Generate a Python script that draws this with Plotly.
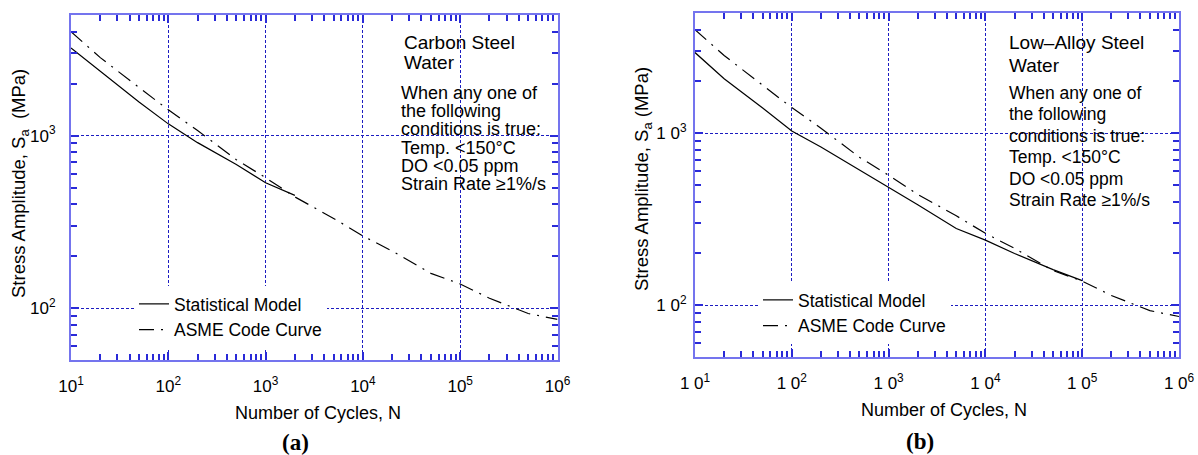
import plotly.graph_objects as go

# ---------------- data ----------------
# (a) Carbon steel
cs_model_N = [10, 20, 50, 100, 200, 500, 1000, 2000]
cs_model_S = [3215, 2345, 1565, 1169, 910, 680, 533, 450]
asme_N = [10, 20, 50, 100, 200, 500, 1000, 2000, 5000, 1e4, 2e4, 5e4, 1e5, 2e5, 5e5, 1e6]
asme_S = [4000, 2830, 1900, 1410, 1070, 725, 570, 441, 331, 262, 214, 159, 138, 114, 93, 86]
# (b) Low-alloy steel
las_model_N = [10, 20, 50, 100, 200, 500, 1000, 2000, 5000, 1e4, 2e4, 5e4, 1e5]
las_model_S = [2944, 2074, 1403, 1030, 832, 613, 489, 384, 279, 239, 200, 161, 139]

x_major = [10, 100, 1000, 1e4, 1e5, 1e6]
x_labels_a = ["10<sup>1</sup>", "10<sup>2</sup>", "10<sup>3</sup>", "10<sup>4</sup>", "10<sup>5</sup>", "10<sup>6</sup>"]
x_labels_b = ["1 0<sup>1</sup>", "1 0<sup>2</sup>", "1 0<sup>3</sup>", "1 0<sup>4</sup>", "1 0<sup>5</sup>", "1 0<sup>6</sup>"]
y_major = [100, 1000]
y_labels_a = ["10<sup>2</sup>", "10<sup>3</sup>"]
y_labels_b = ["1 0<sup>2</sup>", "1 0<sup>3</sup>"]
x_minor = [m * 10 ** e for e in range(1, 6) for m in range(2, 10)]
y_minor = [m * 10 ** e for e in range(1, 4) for m in range(2, 10)]

text_a_title = ["Carbon Steel", "Water"]
text_b_title = ["Low\u2013Alloy Steel", "Water"]
text_body = ["When any one of", "the following", "conditions is true:",
             "Temp. <150\u00b0C", "DO <0.05 ppm", "Strain Rate \u22651%/s"]

W, H = 1198, 455
FONT = "Liberation Sans"
AXIS_LINE = "#7474ee"
TICK_C = "#2a2ad8"
GRID_C = "#1c1cc0"

fig = go.Figure()
fig.add_trace(go.Scatter(x=cs_model_N, y=cs_model_S, mode="lines", name="Statistical Model",
                         line=dict(color="black", width=1.2), xaxis="x", yaxis="y", legend="legend"))
fig.add_trace(go.Scatter(x=asme_N, y=asme_S, mode="lines", name="ASME Code Curve",
                         line=dict(color="black", width=1.2, dash="15px,7px,2px,7px"),
                         xaxis="x", yaxis="y", legend="legend"))
fig.add_trace(go.Scatter(x=las_model_N, y=las_model_S, mode="lines", name="Statistical Model",
                         line=dict(color="black", width=1.2), xaxis="x2", yaxis="y2", legend="legend2"))
fig.add_trace(go.Scatter(x=asme_N, y=asme_S, mode="lines", name="ASME Code Curve",
                         line=dict(color="black", width=1.2, dash="15px,7px,2px,7px"),
                         xaxis="x2", yaxis="y2", legend="legend2"))


def axis(common_range, tickvals, ticktext, minor_vals, domain, anchor, standoff):
    return dict(type="log", range=common_range, domain=domain, anchor=anchor, automargin=False,
                tickmode="array", tickvals=tickvals, ticktext=ticktext,
                showline=True, linecolor=AXIS_LINE, linewidth=2, mirror="ticks",
                ticks="inside", ticklen=8, tickwidth=1.5, tickcolor=TICK_C,
                showgrid=True, gridcolor=GRID_C, gridwidth=1, griddash="3px,2px",
                zeroline=False, ticklabelstandoff=standoff,
                tickfont=dict(family=FONT, size=17, color="black"),
                minor=dict(tickmode="array", tickvals=minor_vals, ticks="inside", ticklen=6,
                           tickwidth=1.5, tickcolor=TICK_C, showgrid=False))


px = lambda v: v / W
py = lambda v: 1 - v / H

fig.update_layout(
    width=W, height=H, margin=dict(l=0, r=0, t=0, b=0, autoexpand=False),
    paper_bgcolor="white", plot_bgcolor="white",
    font=dict(family=FONT, size=17, color="black"),
    xaxis=axis([1, 6], x_major, x_labels_a, x_minor, [px(71), px(557.5)], "y", 10),
    yaxis=axis([1.699, 3.699], y_major, y_labels_a, y_minor, [py(360), py(15)], "x", 10),
    xaxis2=axis([1, 6], x_major, x_labels_b, x_minor, [px(695), px(1179)], "y2", 10),
    yaxis2=axis([1.699, 3.699], y_major, y_labels_b, y_minor, [py(357), py(13)], "x2", 3),
    legend=dict(x=px(134), y=py(286), xanchor="left", yanchor="top", bgcolor="white",
                font=dict(family=FONT, size=17.5), tracegroupgap=0),
    legend2=dict(x=px(758), y=py(282), xanchor="left", yanchor="top", bgcolor="white",
                 font=dict(family=FONT, size=17.5), tracegroupgap=0),
    showlegend=True,
)

# white backing behind the text blocks (hides grid lines there, as in the reference)
shapes = []
for (x0, y0, x1, y1) in [(401, 31, 530, 72), (398, 83, 550, 193),
                         (1006, 30, 1150, 76), (1006, 82, 1160, 211)]:
    shapes.append(dict(type="rect", xref="paper", yref="paper", x0=px(x0), x1=px(x1),
                       y0=py(y1), y1=py(y0), fillcolor="white", line=dict(width=0), layer="between"))
fig.update_layout(shapes=shapes)


def note(text, x, y, size, xanchor="left", angle=0, family=FONT):
    return dict(text=text, x=px(x), y=py(y), xref="paper", yref="paper", xanchor=xanchor,
                yanchor="middle", showarrow=False, textangle=angle,
                font=dict(family=family, size=size, color="black"))


ann = []
# axis titles
ann.append(note("Number of Cycles, N", 318, 413, 18, "center"))
ann.append(note("Number of Cycles, N", 944, 410, 18, "center"))
ann.append(note("Stress Amplitude, S<sub>a</sub>  (MPa)", 20, 184, 18.5, "center", -90))
ann.append(note("Stress Amplitude, S<sub>a</sub> (MPa)", 643, 179, 18.5, "center", -90))
# panel labels
ann.append(note("<b>(a)</b>", 295, 442, 23, "center", family="Liberation Serif"))
ann.append(note("<b>(b)</b>", 920, 441, 23, "center", family="Liberation Serif"))
# text blocks
for i, t in enumerate(text_a_title):
    ann.append(note(t, 402, 42 + 20.5 * i, 19))
for i, t in enumerate(text_body):
    ann.append(note(t, 399, 93 + 18.2 * i, 18))
for i, t in enumerate(text_b_title):
    ann.append(note(t, 1007, 42 + 23.3 * i, 19))
for i, t in enumerate(text_body):
    ann.append(note(t, 1007, 93 + 21.4 * i, 17.5))
fig.update_layout(annotations=ann)

fig.write_html("out.html", config={"displayModeBar": False},
               post_script="document.body.style.margin='0';")
